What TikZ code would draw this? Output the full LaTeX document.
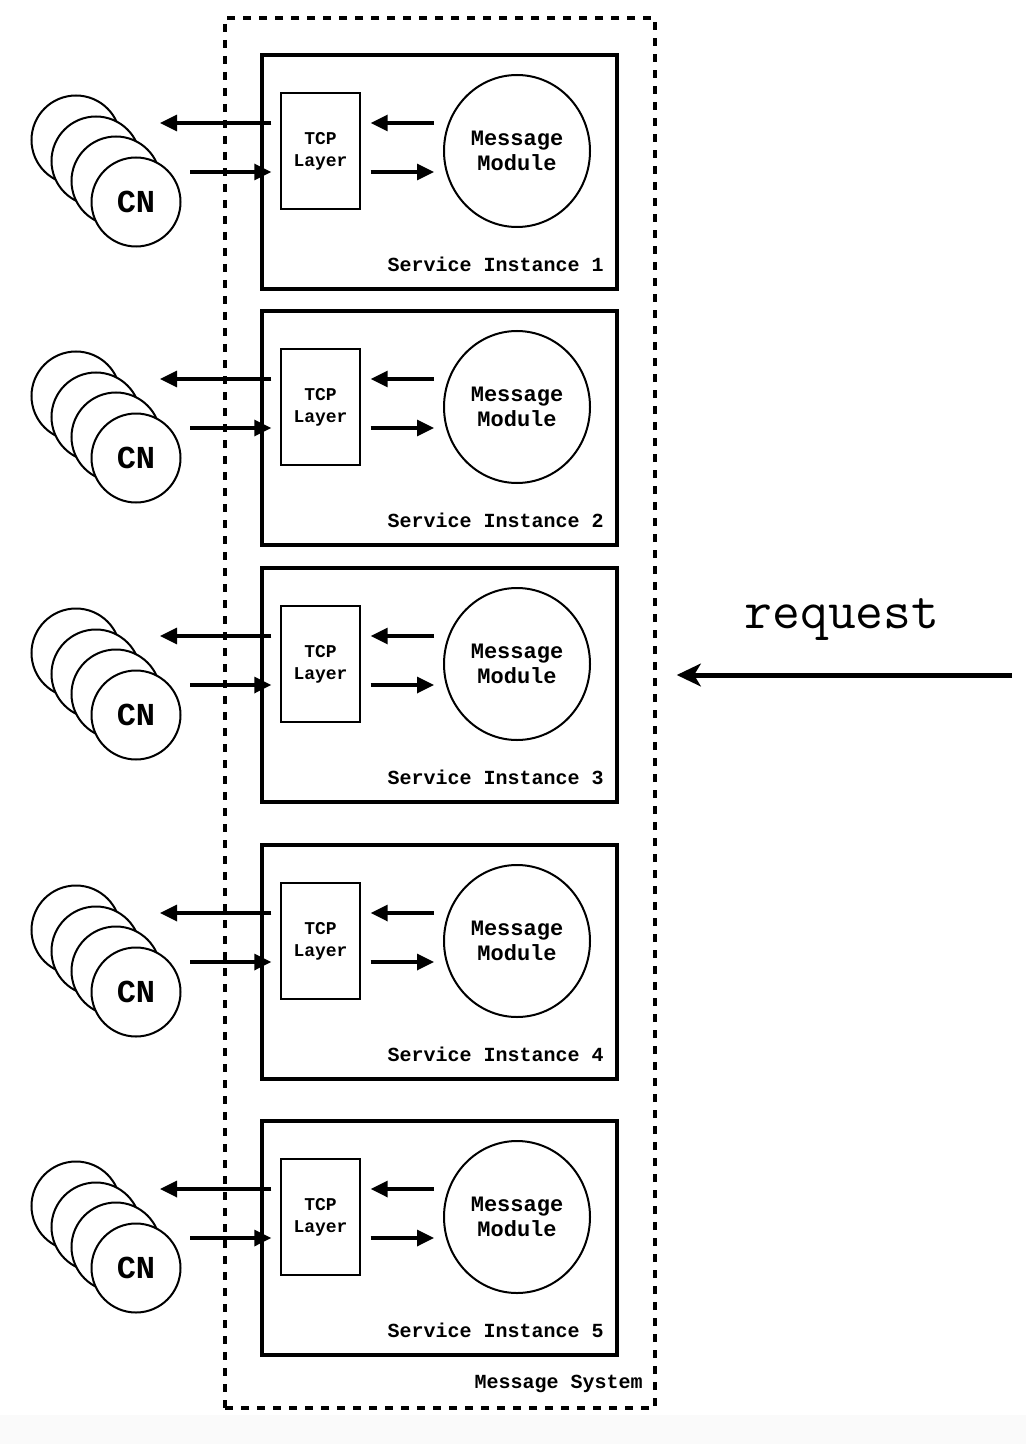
\documentclass[tikz,border=0pt]{standalone}
\usepackage{fontspec}
\setmonofont{Liberation Mono}
\newfontfamily\reqfont{Latin Modern Mono}
\usetikzlibrary{
	positioning,
	shapes.geometric,
	arrows.meta
}

\begin{document}
\begin{tikzpicture}[
		x=0.75pt, y=-0.75pt,
		system/.style={draw, line width=2.6pt, dash pattern=on 6pt off 6pt,
			minimum width=322.5pt, minimum height=1042.5pt},
		instance/.style={draw, line width=2.6pt, minimum width=266.25pt, minimum height=175.5pt},
		tcp/.style={draw, line width=1.1pt, fill=white, minimum width=59.25pt, minimum height=87pt,
			inner sep=0pt, align=center, font=\ttfamily\bfseries\fontsize{13.5}{16.5}\selectfont},
		module/.style={draw, ellipse, line width=1.5pt, fill=white, minimum width=109.5pt,
			minimum height=114pt, inner sep=0pt, align=center,
			font=\ttfamily\bfseries\fontsize{16.5}{18.75}\selectfont},
		cn/.style={draw, circle, line width=1.5pt, fill=white, minimum size=66.75pt, inner sep=0pt,
			font=\ttfamily\bfseries\fontsize{24}{24}\selectfont},
		boxtext/.style={inner sep=0pt, anchor=east, font=\ttfamily\bfseries\fontsize{15}{15}\selectfont},
		flow/.style={line width=2.5pt, -{Triangle[length=12.75pt,width=12pt]}}
	]
	\useasboundingbox (0,0) rectangle (1026,1444);
	\fill[black!2] (0,1415) rectangle (1026,1444);

	% the message system around all instances
	\node[system] (msys) at (440,713) {};
	\node[boxtext] (msyslabel) at (643,1384) {Message System};

	\foreach \i/\top in {1/55, 2/311, 3/568, 4/845, 5/1121} {
		\node[instance] (si\i) at (439.5,\top+117) {};
		\node[boxtext] (silabel\i) at (604,\top+209) {Service Instance \i};
		\node[tcp] (tcp\i) at (320.5,\top+96) {TCP\\Layer};
		\node[module] (module\i) at (517,\top+96) {Message\\Module};

		% stack of client nodes
		\node[cn] (cn\i-1) at (76,\top+85) {};
		\node[cn] (cn\i-2) at (96,\top+106) {};
		\node[cn] (cn\i-3) at (116,\top+126) {};
		\node[cn] (cn\i-4) at (136,\top+147) {CN};

		\coordinate (out\i) at (160,\top+68);
		\coordinate (in\i) at (190,\top+117);

		\draw[flow, shorten <=6.75pt] (tcp\i.west |- out\i) -- (out\i);
		\draw[flow, shorten >=6.75pt] (in\i) -- (tcp\i.west |- in\i);
		\draw[flow, shorten <=6.75pt, shorten >=7.5pt] (module\i.west |- out\i) -- (tcp\i.east |- out\i);
		\draw[flow, shorten <=7.5pt, shorten >=6.75pt] (tcp\i.east |- in\i) -- (module\i.west |- in\i);
	}

	% incoming request
	\node[font=\reqfont\fontsize{40.5}{40.5}\selectfont] (request) at (842,620) {request};
	\coordinate (reqstart) at (1012,675);
	\draw[line width=3.75pt, shorten >=15pt, -{Stealth[length=18pt,width=17pt,inset=5pt]}]
		(reqstart) -- (msys.east |- reqstart);
\end{tikzpicture}
\end{document}
